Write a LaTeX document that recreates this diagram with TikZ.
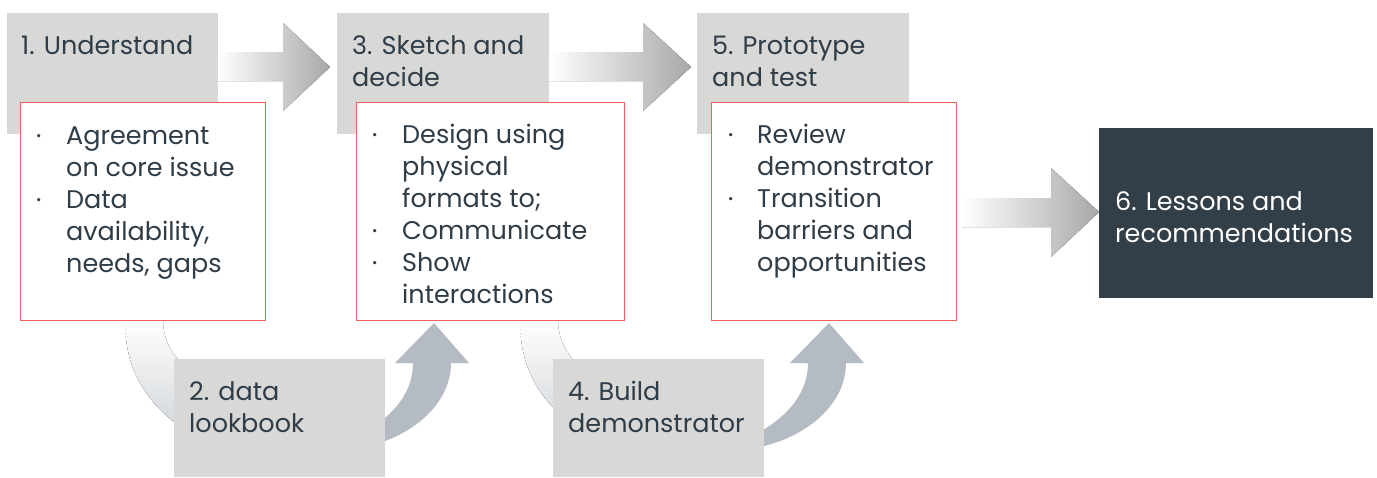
\documentclass[tikz,border=0pt]{standalone}
\usepackage{fontspec}
\setmainfont{Poppins}
\usetikzlibrary{shapes.geometric}
\definecolor{boxgrey}{RGB}{216,216,214}
\definecolor{redline}{RGB}{240,96,90}
\definecolor{ink}{RGB}{47,61,72}
\definecolor{darkbox}{RGB}{51,63,72}
\definecolor{arcdark}{RGB}{181,187,194}
\definecolor{arclight}{RGB}{208,212,216}
\definecolor{arrowend}{RGB}{168,168,168}
\newcommand{\bdot}{\raisebox{4pt}{\fontsize{13}{13}\selectfont •}}
\begin{document}
\begin{tikzpicture}[x=1pt,y=-1pt,
  greybox/.style={fill=boxgrey,draw=none,anchor=north west,inner sep=0pt},
  redbox/.style={fill=white,draw=redline,line width=1.4pt,anchor=north west,inner sep=0pt},
  txt/.style={anchor=base west,inner sep=0pt,text=ink,font=\fontsize{25.5}{32}\selectfont},
  flatarrow/.style={left color=white,right color=arrowend,draw=none},
  lightarc/.style={top color=white,bottom color=arclight,draw=none},
  darkarc/.style={fill=arcdark,draw=none}]
\useasboundingbox (0,0) rectangle (1377,477);
\fill[white] (0,0) rectangle (1377,477);

% curved arrows (behind boxes)
\foreach \dx/\nm in {0/a,395/b}{
  \begin{scope}[xshift=\dx]
    \fill[lightarc] (125,320) .. controls (125,370) and (145,405) .. (195,437)
      -- (195,375) .. controls (175,360) and (163,343) .. (163,320) -- cycle;
    \fill[darkarc] (355,449) .. controls (410,440) and (451,405) .. (451,363)
      -- (469,363) -- (434,323) -- (395,363) -- (413,363)
      .. controls (413,395) and (390,420) .. (355,437) -- cycle;
  \end{scope}
}

% straight block arrows
\fill[flatarrow] (218,52) -- (283,52) -- (283,23) -- (330,67) -- (283,111) -- (283,81) -- (218,81) -- cycle;
\fill[flatarrow] (549,52) -- (643,52) -- (643,23) -- (691,67) -- (643,111) -- (643,81) -- (549,81) -- cycle;
\fill[flatarrow] (962,198) -- (1051,198) -- (1051,168) -- (1099,212) -- (1051,257) -- (1051,227) -- (962,227) -- cycle;

% top grey boxes
\node[greybox,minimum width=211pt,minimum height=121pt] (g1) at (7,13) {};
\node[greybox,minimum width=212pt,minimum height=121pt] (g3) at (337,13) {};
\node[greybox,minimum width=212pt,minimum height=121pt] (g5) at (697,13) {};

% red boxes
\node[redbox,minimum width=245pt,minimum height=218pt] (r1) at (20,102) {};
\node[redbox,minimum width=268pt,minimum height=218pt] (r3) at (356,102) {};
\node[redbox,minimum width=245pt,minimum height=218pt] (r5) at (711,102) {};

% bottom grey boxes
\node[greybox,minimum width=211pt,minimum height=118pt] (g2) at (174,359) {};
\node[greybox,minimum width=211pt,minimum height=118pt] (g4) at (553,359) {};

% final dark box
\node[fill=darkbox,draw=none,anchor=north west,inner sep=0pt,minimum width=274pt,minimum height=170pt] (g6) at (1099,128) {};

% headings
\node[txt] (t1) at (21,54) {\begin{tabular}[t]{@{}l@{}}1. Understand\end{tabular}};
\node[txt] (t3) at (352,54) {\begin{tabular}[t]{@{}l@{}}3. Sketch and\\decide\end{tabular}};
\node[txt] (t5) at (712,54) {\begin{tabular}[t]{@{}l@{}}5. Prototype\\and test\end{tabular}};
\node[txt] (t2) at (189,400) {\begin{tabular}[t]{@{}l@{}}2. data\\lookbook\end{tabular}};
\node[txt] (t4) at (568,400) {\begin{tabular}[t]{@{}l@{}}4. Build\\demonstrator\end{tabular}};
\node[txt,text=white] (t6) at (1115,210) {\begin{tabular}[t]{@{}l@{}}6. Lessons and\\recommendations\end{tabular}};

% bullet lists
\node[txt] (l1) at (36,144) {\begin{tabular}[t]{@{}p{30pt}@{}l@{}}
\bdot & Agreement\\ & on core issue\\ \bdot & Data\\ & availability,\\ & needs, gaps\end{tabular}};
\node[txt] (l3) at (372,143) {\begin{tabular}[t]{@{}p{30pt}@{}l@{}}
\bdot & Design using\\ & physical\\ & formats to;\\ \bdot & Communicate\\ \bdot & Show\\ & interactions\end{tabular}};
\node[txt] (l5) at (728,143) {\begin{tabular}[t]{@{}p{29pt}@{}l@{}}
\bdot & Review\\ & demonstrator\\ \bdot & Transition\\ & barriers and\\ & opportunities\end{tabular}};
\end{tikzpicture}
\end{document}
